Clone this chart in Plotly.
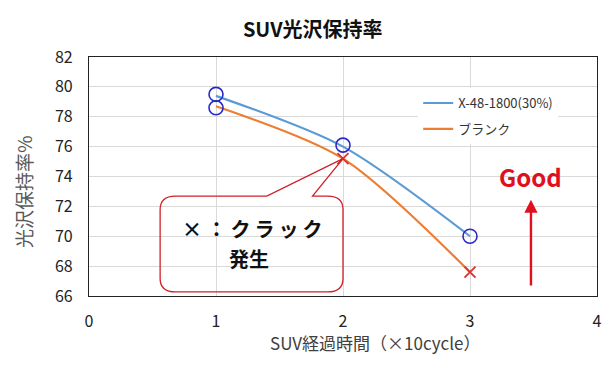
import plotly.graph_objects as go

title = "SUV光沢保持率"
x_title = "SUV経過時間（×10cycle）"
y_title = "光沢保持率%"
x_vals = [1, 2, 3]
series_a_name = "X-48-1800(30%)"
series_a = [79.4, 76.0, 70.0]
series_b_name = "ブランク"
series_b = [78.7, 75.2, 67.6]
circle_x = [1, 1, 2, 3]
circle_y = [79.5, 78.6, 76.1, 70.0]
crack_x = [2, 3]
crack_y = [75.2, 67.6]
x_ticks = [0, 1, 2, 3, 4]
y_ticks = [66, 68, 70, 72, 74, 76, 78, 80, 82]

FONT = "Noto Sans CJK JP"
fig = go.Figure()
fig.add_trace(go.Scatter(x=x_vals, y=series_a, mode="lines", name=series_a_name, legendgroup="a",
                         line=dict(color="#5B9BD5", width=2.2, shape="spline", smoothing=0.8)))
fig.add_trace(go.Scatter(x=x_vals, y=series_b, mode="lines", name=series_b_name, legendgroup="b",
                         line=dict(color="#ED7D31", width=2.2, shape="spline", smoothing=0.8)))
fig.add_trace(go.Scatter(x=circle_x, y=circle_y, mode="markers", showlegend=False,
                         marker=dict(symbol="circle-open", size=14, color="#2828C8",
                                     line=dict(width=1.6, color="#2828C8"))))
fig.add_trace(go.Scatter(x=crack_x, y=crack_y, mode="markers", showlegend=False,
                         marker=dict(symbol="x-thin-open", size=11, color="#E03030",
                                     line=dict(width=1.8, color="#E03030"))))

# callout box (rounded rectangle with pointer), transparent fill
x0, x1, y0, y1 = 0.56, 2.0, 66.27, 72.69
rx, ry = 0.12, 0.9
bx0, bx1 = 1.40, 1.76
tipx, tipy = 2.0, 75.2
path = (f"M {x0+rx},{y1} L {bx0},{y1} L {tipx},{tipy} L {bx1},{y1} L {x1-rx},{y1} "
        f"Q {x1},{y1} {x1},{y1-ry} L {x1},{y0+ry} Q {x1},{y0} {x1-rx},{y0} "
        f"L {x0+rx},{y0} Q {x0},{y0} {x0},{y0+ry} L {x0},{y1-ry} Q {x0},{y1} {x0+rx},{y1} Z")
fig.add_shape(type="path", path=path, xref="x", yref="y",
              line=dict(color="#D02028", width=1.3), fillcolor="rgba(0,0,0,0)", layer="above")
ts = "\u2009"
fig.add_annotation(x=1.29, y=70.55, xref="x", yref="y",
                   text="<b>× " + "：" + ts + ts.join("クラック") + "</b>",
                   showarrow=False, font=dict(family=FONT, size=20, color="#111111"))
fig.add_annotation(x=1.26, y=68.54, xref="x", yref="y", text="<b>発生</b>",
                   showarrow=False, font=dict(family=FONT, size=20, color="#111111"))

# Good arrow
fig.add_annotation(x=3.48, y=72.45, xref="x", yref="y", ax=3.48, ay=66.6, axref="x", ayref="y",
                   text="", showarrow=True, arrowhead=2, arrowsize=1.1, arrowwidth=2.4,
                   arrowcolor="#E0101E")
fig.add_annotation(x=3.48, y=74.0, xref="x", yref="y", text="<b>Good</b>", showarrow=False,
                   font=dict(family=FONT, size=24, color="#E0101E"))

# axis titles
fig.add_annotation(x=0.563, y=-0.196, xref="paper", yref="paper", text=x_title, showarrow=False,
                   xanchor="center", yanchor="middle",
                   font=dict(family=FONT, size=17, color="#404040"))
fig.add_annotation(x=-0.13, y=0.439, xref="paper", yref="paper", text=y_title, showarrow=False,
                   xanchor="center", yanchor="middle",
                   textangle=-90, font=dict(family=FONT, size=19, color="#595959"))

fig.update_layout(
    width=607, height=367,
    margin=dict(l=81, r=18, t=49, b=79),
    paper_bgcolor="white", plot_bgcolor="white",
    title=dict(text="<b>" + title + "</b>", x=0.502, xanchor="center", y=0.94, yanchor="middle",
               font=dict(family=FONT, size=20, color="#111111")),
    font=dict(family=FONT, color="#404040"),
    legend=dict(x=0.648, y=0.87, xanchor="left", yanchor="top", bgcolor="white",
                font=dict(family=FONT, size=13, color="#333333"), tracegroupgap=6),
    showlegend=True,
)
fig.update_xaxes(range=[0, 4], tickvals=x_ticks, showgrid=True, gridcolor="#D9D9D9",
                 showline=True, linecolor="#222222", linewidth=1.3, mirror=True,
                 ticks="", zeroline=False, ticklabelstandoff=11,
                 tickfont=dict(size=16, color="#222222"))
fig.update_yaxes(range=[66, 82], tickvals=y_ticks, showgrid=True, gridcolor="#D9D9D9",
                 showline=True, linecolor="#222222", linewidth=1.3, mirror=True,
                 ticks="", zeroline=False, ticklabelstandoff=12,
                 tickfont=dict(size=16, color="#222222"))
fig.write_html("out.html")
